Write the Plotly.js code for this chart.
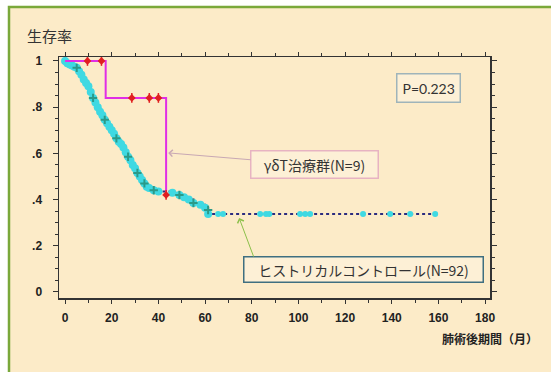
<!DOCTYPE html>
<html>
<head>
<meta charset="utf-8">
<script src="https://cdn.plot.ly/plotly-3.0.1.min.js"></script>
<style>html,body{margin:0;padding:0;background:#fff;}</style>
</head>
<body>
<div id="chart" style="width:551px;height:372px;"></div>
<script>
// Control group (historical, N=92) Kaplan-Meier step points
var ctrlTime = [0,1,2,3,4,5,6,7,8,9,10,11,12,13,14,15,16,17,18,19,20,21,22,23,24,25,26,27,28,29,30,31,32,33,34,35,36,38,40,46,49,51,53,55,58,60,61.3,158.6];
var ctrlSurv = [1.0,0.99,0.985,0.98,0.975,0.97,0.955,0.94,0.92,0.905,0.89,0.865,0.84,0.82,0.80,0.78,0.765,0.745,0.73,0.715,0.70,0.685,0.665,0.65,0.64,0.625,0.605,0.585,0.57,0.55,0.535,0.515,0.50,0.485,0.47,0.455,0.45,0.44,0.435,0.43,0.42,0.41,0.40,0.385,0.378,0.365,0.338,0.338];
// Control censored marks on the plateau
var ctrlCensTime = [61.3,65.6,67.7,83.6,86.1,87.5,100.7,102.9,105,127.7,139.3,147.9,158.6];
var ctrlCensSurv = [0.338,0.338,0.338,0.338,0.338,0.338,0.338,0.338,0.338,0.338,0.338,0.338,0.338];
// Control dark tick marks
var ctrlTickTime = [5,12,17,22,27,31,34,38,49,55,61.3];
var ctrlTickSurv = [0.97,0.84,0.745,0.665,0.585,0.515,0.47,0.44,0.42,0.385,0.355];
// γδT group (N=9)
var gdTime = [0,17.4,43.3];
var gdSurv = [1.0,0.84,0.42];
var gdCensTime = [9.6,15.6,28.6,36.1,40,43.3];
var gdCensSurv = [1.0,1.0,0.84,0.84,0.84,0.42];
// Axis ticks
var xTicks = [0,20,40,60,80,100,120,140,160,180];
var yTicks = [0,0.2,0.4,0.6,0.8,1];
var yTickText = ['0','.2','.4','.6','.8','1'];
var labels = {
  yTitle: '生存率',
  xTitle: '肺術後期間（月）',
  pValue: 'P=0.223',
  gd: 'γδT治療群(N=9)',
  ctrl: 'ヒストリカルコントロール(N=92)'
};

var L = 59, T = 57, W = 431, H = 241;
function px(x){ return (x - L) / W; }
function py(y){ return (T + H - y) / H; }

var beige = '#fcebc8';
var traces = [
  {x: ctrlTime, y: ctrlSurv, mode: 'lines', type: 'scatter',
   line: {shape: 'hv', color: '#2c2c80', width: 2, dash: 'dot'}, hoverinfo: 'skip'},
  {x: ctrlTime.slice(0, ctrlTime.length - 1), y: ctrlSurv.slice(0, ctrlSurv.length - 1), mode: 'markers', type: 'scatter',
   marker: {color: '#3fd9e2', size: 8, line: {width: 0}}, hoverinfo: 'skip'},
  {x: ctrlCensTime, y: ctrlCensSurv, mode: 'markers', type: 'scatter',
   marker: {color: '#3fd9e2', size: 6, line: {width: 0}}, hoverinfo: 'skip'},
  {x: ctrlTickTime, y: ctrlTickSurv, mode: 'markers', type: 'scatter',
   marker: {symbol: 'cross-thin-open', color: '#2a9a88', size: 6, line: {width: 2, color: '#2a9a88'}}, hoverinfo: 'skip'},
  {x: gdTime, y: gdSurv, mode: 'lines', type: 'scatter',
   line: {shape: 'hv', color: '#e02ee6', width: 2}, hoverinfo: 'skip'},
  {x: gdCensTime, y: gdCensSurv, mode: 'markers', type: 'scatter',
   marker: {symbol: 'diamond', color: '#e02020', size: 6, line: {width: 0}}, hoverinfo: 'skip'},
  {x: gdCensTime, y: gdCensSurv, mode: 'markers', type: 'scatter',
   marker: {symbol: 'line-ns-open', color: '#e02020', size: 7, line: {width: 1.5, color: '#e02020'}}, hoverinfo: 'skip'}
];

var tickFont = {family: 'Liberation Sans Narrow, Liberation Sans, Arial, sans-serif', size: 12, color: '#222', weight: 'bold'};
var jpFont = 'Noto Sans CJK JP, Noto Sans, sans-serif';

var layout = {
  width: 551, height: 372,
  margin: {l: L, r: 551 - L - W, t: T, b: 372 - T - H, pad: 0},
  paper_bgcolor: '#ffffff',
  plot_bgcolor: 'rgba(0,0,0,0)',
  showlegend: false,
  xaxis: {
    range: [-2.6, 182.1], tickmode: 'array', tickvals: xTicks,
    ticks: 'outside', ticklen: 4, tickcolor: '#333', tickwidth: 1,
    minor: {tickmode: 'linear', tick0: 0, dtick: 10, ticks: 'outside', ticklen: 3, tickcolor: '#333'},
    showline: true, linecolor: '#333', linewidth: 1.5, mirror: 'ticks',
    showgrid: false, zeroline: false, tickfont: tickFont, ticklabelstandoff: 4
  },
  yaxis: {
    range: [-0.026, 1.017], tickmode: 'array', tickvals: yTicks, ticktext: yTickText,
    ticks: 'outside', ticklen: 5, tickcolor: '#333', tickwidth: 1,
    minor: {tickmode: 'linear', tick0: 0, dtick: 0.05, ticks: 'outside', ticklen: 3, tickcolor: '#333'},
    showline: true, linecolor: '#333', linewidth: 1.5, mirror: 'ticks',
    showgrid: false, zeroline: false, tickfont: tickFont, ticklabelstandoff: 8
  },
  shapes: [
    {type: 'rect', xref: 'paper', yref: 'paper', layer: 'below',
     x0: px(9), x1: px(570), y0: py(390), y1: py(7),
     fillcolor: beige, line: {color: '#7aa83a', width: 2.5}}
  ],
  annotations: [
    {xref: 'paper', yref: 'paper', x: px(25), y: py(35), xanchor: 'left', yanchor: 'middle',
     text: labels.yTitle, showarrow: false, font: {family: jpFont, size: 15, color: '#333'}},
    {xref: 'paper', yref: 'paper', x: px(440), y: py(338), xanchor: 'left', yanchor: 'middle',
     text: labels.xTitle, showarrow: false, font: {family: jpFont, size: 12, color: '#222', weight: 'bold'}},
    {xref: 'paper', yref: 'paper', x: px(428), y: py(88), xanchor: 'center', yanchor: 'middle',
     text: labels.pValue, showarrow: false, font: {family: 'Lato, Noto Sans, sans-serif', size: 14, color: '#333'},
     bgcolor: '#fdf0d6', bordercolor: '#9fb4ba', borderwidth: 1.5, borderpad: 5},
    {xref: 'paper', yref: 'paper', x: px(314), y: py(164), xanchor: 'center', yanchor: 'middle',
     text: labels.gd, showarrow: false, font: {family: jpFont, size: 14, color: '#333'},
     bgcolor: '#fdf0d6', bordercolor: '#e7b3c2', borderwidth: 1.5, borderpad: 3, width: 120},
    {xref: 'paper', yref: 'paper', x: px(363), y: py(269), xanchor: 'center', yanchor: 'middle',
     text: labels.ctrl, showarrow: false, font: {family: jpFont, size: 14, color: '#333'},
     bgcolor: '#fdf0d6', bordercolor: '#3f6f80', borderwidth: 1.5, borderpad: 2, width: 234},
    {xref: 'x', yref: 'y', x: 44.2, y: 0.602, ax: 84, ay: 7, text: '', showarrow: true,
     arrowhead: 4, arrowsize: 1.3, arrowwidth: 1, arrowcolor: '#c8a8b4'},
    {xref: 'x', yref: 'y', x: 74.6, y: 0.32, ax: 15, ay: 40, text: '', showarrow: true,
     arrowhead: 4, arrowsize: 1.3, arrowwidth: 1, arrowcolor: '#8cc04a'}
  ]
};

Plotly.newPlot('chart', traces, layout, {displayModeBar: false, staticPlot: true});
</script>
</body>
</html>
